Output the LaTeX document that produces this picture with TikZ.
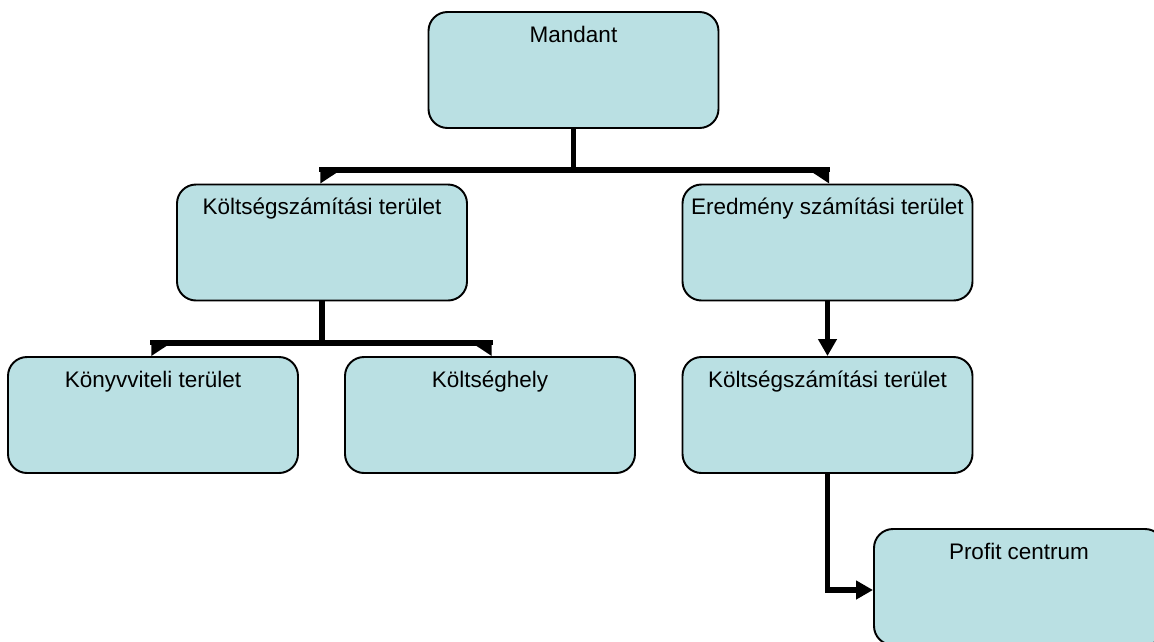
\documentclass[tikz,border=0pt]{standalone}
\usepackage{fontspec}
\setmainfont{Liberation Sans}
\usetikzlibrary{positioning,arrows.meta}
\definecolor{cUnit}{HTML}{BAE0E3}
\tikzset{
  orgb/.style={draw, line width=1.1pt, rounded corners=0.38cm, fill=cUnit,
               minimum width=5.8cm, inner ysep=0pt, text height=0.6cm,
               text depth=1.72cm, font=\fontsize{12.8}{15}\selectfont},
  brl/.style={-{Triangle[harpoon, length=0.27cm, width=0.8cm]}, line width=3.1pt},
  brr/.style={-{Triangle[harpoon, swap, length=0.27cm, width=0.8cm]}, line width=3.1pt},
  ar/.style={-{Triangle[length=0.34cm, width=0.36cm]}, line width=3.1pt},
}

\begin{document}
\begin{tikzpicture}
    \clip (0,0) rectangle (23.08,-12.84);
    \node[orgb] (mandant) at (11.47,-1.40) {Mandant};
    \node[orgb] (kszl)    at (6.44,-4.85)  {Költségszámítási terület};
    \node[orgb] (ered)    at (16.55,-4.85) {Eredmény számítási terület};
    \node[orgb] (konyv)   at (3.06,-8.30)  {Könyvviteli terület};
    \node[orgb] (khely)   at (9.80,-8.30)  {Költséghely};
    \node[orgb] (kszr)    at (16.55,-8.30) {Költségszámítási terület};
    \node[orgb] (profit)  at (20.38,-11.74) {Profit centrum};

    % tree bars
    \coordinate (topbar) at (0,-3.40);
    \coordinate (lowbar) at (0,-6.86);
    \draw[brl] (mandant.south) -- (mandant.south |- topbar) -| (kszl.north);
    \draw[brr] (mandant.south) -- (mandant.south |- topbar) -| (ered.north);
    \draw[brl] (kszl.south) -- (kszl.south |- lowbar) -| (konyv.north);
    \draw[brr] (kszl.south) -- (kszl.south |- lowbar) -| (khely.north);

    % right branch
    \draw[ar] (ered) -- (kszr);
    \draw[ar] (kszr.south) |- ([yshift=-0.06cm]profit.west);
  \end{tikzpicture}
\end{document}
